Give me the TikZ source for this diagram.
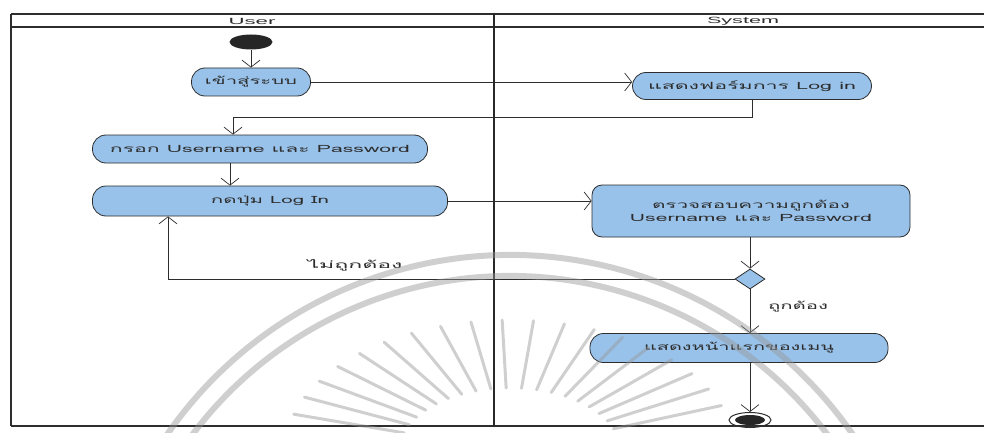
\documentclass[tikz,border=0pt]{standalone}
\usepackage{fontspec}
\usepackage{graphicx}
\usetikzlibrary{arrows.meta,shapes.geometric}
\newfontfamily\thai[Script=Thai]{Loma}
\newfontfamily\lsans{Liberation Sans}
\definecolor{actfill}{RGB}{152,194,234}
\definecolor{ink}{RGB}{45,45,45}
\definecolor{wm}{RGB}{150,150,150}
\newcommand\tw[2]{\resizebox{#1}{\height}{#2}}
\begin{document}
\begin{tikzpicture}[x=1pt,y=-1pt,
  act/.style={rectangle, rounded corners=13.5pt, draw=ink, line width=0.8pt, fill=actfill,
    minimum height=28pt, inner sep=0pt, font=\thai\fontsize{10}{12}\selectfont, text=ink},
  lbl/.style={inner sep=0pt, font=\thai\fontsize{10}{12}\selectfont, text=ink},
  hdr/.style={inner sep=0pt, font=\lsans\fontsize{9}{10}\selectfont, text=ink},
  flow/.style={draw=ink, line width=0.7pt, -{Straight Barb[length=7pt,width=18pt]}},
  frame/.style={draw=ink, line width=1.2pt},
  wmline/.style={draw=wm, line width=6pt},
  wmray/.style={draw=wm, line width=3pt, line cap=round}]
\useasboundingbox (0,0) rectangle (984,433);
\fill[white] (0,0) rectangle (984,433);
% swimlane frame
\draw[frame] (11,14) -- (984,14);
\draw[frame] (11,27) -- (984,27);
\draw[draw=ink, line width=2pt] (11,14) -- (11,426);
\draw[frame] (11,426) -- (984,426);
\draw[draw=ink!90!black, line width=2.8pt] (494,14) -- (494,426);
\node[hdr] (huser) at (252,21) {\tw{47pt}{User}};
\node[hdr] (hsys) at (743,21) {\tw{72pt}{System}};
% nodes
\node[ellipse, fill=black!85, minimum width=43pt, minimum height=15pt, inner sep=0pt] (start) at (251,42) {};
\node[act, minimum width=119pt] (n1) at (251,82) {\tw{92pt}{เข้าสู่ระบบ}};
\node[act, minimum width=239pt, minimum height=27pt] (n2) at (752,86) {\tw{208pt}{แสดงฟอร์มการ Log in}};
\node[act, minimum width=335pt] (n3) at (260,149) {\tw{300pt}{กรอก Username และ Password}};
\node[act, minimum width=355pt, minimum height=30pt] (n4) at (270,201) {\tw{118pt}{กดปุ่ม Log In}};
\node[act, rounded corners=10pt, minimum width=318pt, minimum height=52pt, align=center] (n5) at (751,211)
  {\tw{198pt}{ตรวจสอบความถูกต้อง}\\[1pt]\tw{242pt}{Username และ Password}};
\node[diamond, draw=ink, line width=0.8pt, fill=actfill, minimum width=30pt, minimum height=20pt, inner sep=0pt] (d) at (750,279) {};
\node[act, minimum width=298pt, minimum height=29pt] (n6) at (739,348) {\tw{190pt}{แสดงหน้าแรกของเมนู}};
\node[ellipse, draw=ink, line width=1pt, minimum width=42pt, minimum height=15pt, inner sep=0pt] (end) at (750,420) {};
\node[ellipse, fill=black!85, minimum width=30pt, minimum height=10pt, inner sep=0pt] (endin) at (end.center) {};
\node[lbl] (lno) at (355,265) {\tw{95pt}{ไม่ถูกต้อง}};
\node[lbl] (lok) at (798,307) {\tw{60pt}{ถูกต้อง}};
% connectors
\coordinate (j1) at (233,117);
\coordinate (j2) at (230,175);
\coordinate (j3) at (168,272);
\draw[flow] (start) -- (n1);
\draw[flow] (n1.east) -- (n1.east -| n2.west);
\draw[flow] (n2.south) |- (j1) -- (j1 |- n3.north);
\draw[flow] (j2 |- n3.south) -- (j2 |- n4.north);
\draw[flow] (n4.east) -- (n4.east -| n5.west);
\draw[flow] (n5.south -| d.north) -- (d.north);
\draw[flow] (d.west) -| (j3 |- n4.south);
\draw[flow] (d.south) -- (d.south |- n6.north);
\draw[flow] (d.south |- n6.south) -- (end.north);
% watermark (printed over the page)
\begin{scope}[opacity=0.45]
\clip (0,0) rectangle (984,433);
\draw[wmline] (510,672) ++(205:417) arc[start angle=205, end angle=335, radius=417];
\draw[wmline] (510,673) ++(205:397) arc[start angle=205, end angle=335, radius=397];
\foreach \a in {196,204,...,344} {
  \draw[wmray] (510,450) ++(\a:110 and 62) -- ++(\a:115 and 68);
}
\end{scope}
\end{tikzpicture}
\end{document}
